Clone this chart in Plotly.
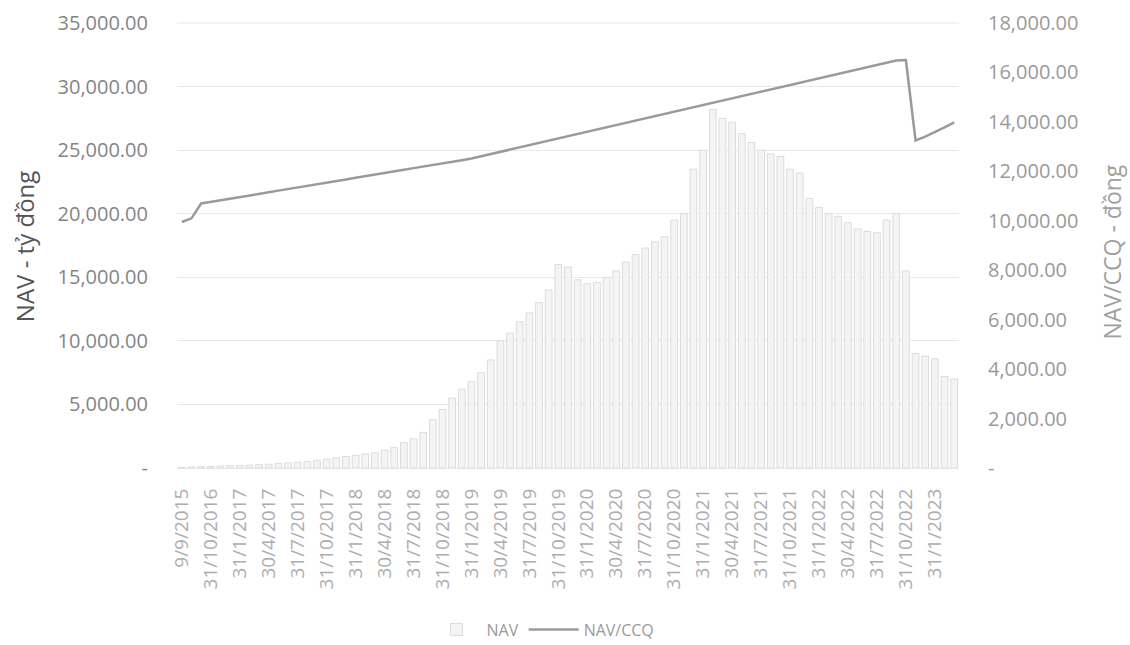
import plotly.graph_objects as go

# ---------------- data ----------------
md_cycle = ["31/1", "28/2", "31/3", "30/4", "31/5", "30/6", "31/7", "31/8", "30/9", "31/10", "30/11", "31/12"]
categories = ["9/9/2015", "31/8/2016", "30/9/2016", "31/10/2016", "30/11/2016", "31/12/2016"]
for y in range(2017, 2023):
    for md in md_cycle:
        categories.append(f"{md}/{y}")
categories += ["31/1/2023", "28/2/2023", "31/3/2023"]

nav = [50, 80, 100, 120, 150, 180, 200, 230, 260, 300,
       350, 400, 450, 500, 600, 700, 800, 900, 1000, 1100,
       1200, 1400, 1600, 2000, 2300, 2800, 3800, 4600, 5500, 6200,
       6800, 7500, 8500, 10000, 10600, 11500, 12200, 13000, 14000, 16000,
       15800, 14800, 14500, 14600, 15000, 15500, 16200, 16800, 17300, 17800,
       18200, 19500, 20000, 23500, 25000, 28200, 27500, 27200, 26300, 25600,
       25000, 24700, 24500, 23500, 23200, 21200, 20500, 20000, 19800, 19300,
       18800, 18600, 18500, 19500, 20000, 15500, 9000, 8800, 8600, 7200,
       7000]

nav_ccq = [9950, 10100, 10700, 10760, 10830, 10890, 10960, 11020, 11090, 11150,
           11220, 11280, 11350, 11410, 11480, 11540, 11610, 11670, 11740, 11800,
           11870, 11930, 12000, 12060, 12130, 12190, 12260, 12320, 12390, 12450,
           12520, 12610, 12700, 12790, 12880, 12970, 13060, 13150, 13240, 13330,
           13420, 13510, 13600, 13690, 13780, 13870, 13960, 14050, 14140, 14230,
           14320, 14410, 14500, 14590, 14680, 14770, 14860, 14950, 15040, 15130,
           15220, 15310, 15400, 15490, 15580, 15670, 15760, 15850, 15940, 16030,
           16120, 16210, 16300, 16420, 16480, 16500, 13250, 13400, 13580, 13780,
           13980]

left_ticks = [0, 5000, 10000, 15000, 20000, 25000, 30000, 35000]
right_ticks = [0, 2000, 4000, 6000, 8000, 10000, 12000, 14000, 16000, 18000]
x_tick_labels = categories[::3]


def fmt(v):
    return "-" if v == 0 else f"{v:,.2f}"


# ---------------- figure ----------------
fig = go.Figure()
fig.add_trace(go.Bar(
    x=categories, y=nav, name="NAV",
    marker=dict(color="#f4f4f4", line=dict(color="#dcdcdc", width=1)),
))
fig.add_trace(go.Scatter(
    x=categories, y=nav_ccq, name="NAV/CCQ", yaxis="y2", mode="lines",
    line=dict(color="#9a9a9a", width=2.5),
))

font_family = "Open Sans, Liberation Sans, sans-serif"

fig.update_layout(
    width=1130, height=645,
    margin=dict(l=177, r=171, t=23, b=177, autoexpand=False),
    paper_bgcolor="white", plot_bgcolor="white",
    font=dict(family=font_family, color="#8c8c8c"),
    bargap=0.3,
    showlegend=True,
    legend=dict(orientation="h", x=0.468, xanchor="center", y=-0.363, yanchor="middle",
                itemwidth=50, font=dict(size=16, color="#9a9a9a")),
    xaxis=dict(type="category", tickmode="array", tickvals=x_tick_labels, ticktext=x_tick_labels,
               tickangle=-90, tickfont=dict(size=19, color="#adadad"),
               showgrid=False, showline=True, linecolor="#e6e6e6", ticks="",
               ticklabelstandoff=12, automargin=False),
    yaxis=dict(range=[0, 35000], tickmode="array", tickvals=left_ticks,
               ticktext=[fmt(v) for v in left_ticks], tickfont=dict(size=20, color="#858585"),
               showgrid=True, gridcolor="#e8e8e8", zeroline=False, showline=False,
               ticklabelstandoff=28, automargin=False),
    yaxis2=dict(range=[0, 18000], overlaying="y", side="right", tickmode="array",
                tickvals=right_ticks, ticktext=[fmt(v) for v in right_ticks],
                tickfont=dict(size=20, color="#9a9a9a"), showgrid=False, zeroline=False,
                showline=False, ticklabelstandoff=28, automargin=False),
    shapes=[dict(type="line", xref="paper", yref="paper", x0=0, x1=1, y0=1, y1=1,
                 line=dict(color="#e8e8e8", width=1), layer="below")],
    annotations=[
        dict(text="NAV - tỷ đồng", xref="paper", yref="paper", x=-0.194, y=0.497,
             xanchor="center", yanchor="middle", textangle=-90, showarrow=False,
             font=dict(size=24, color="#555555")),
        dict(text="NAV/CCQ - đồng", xref="paper", yref="paper", x=1.196, y=0.485,
             xanchor="center", yanchor="middle", textangle=-90, showarrow=False,
             font=dict(size=23, color="#a0a0a0")),
    ],
)

fig.write_html("out.html")
